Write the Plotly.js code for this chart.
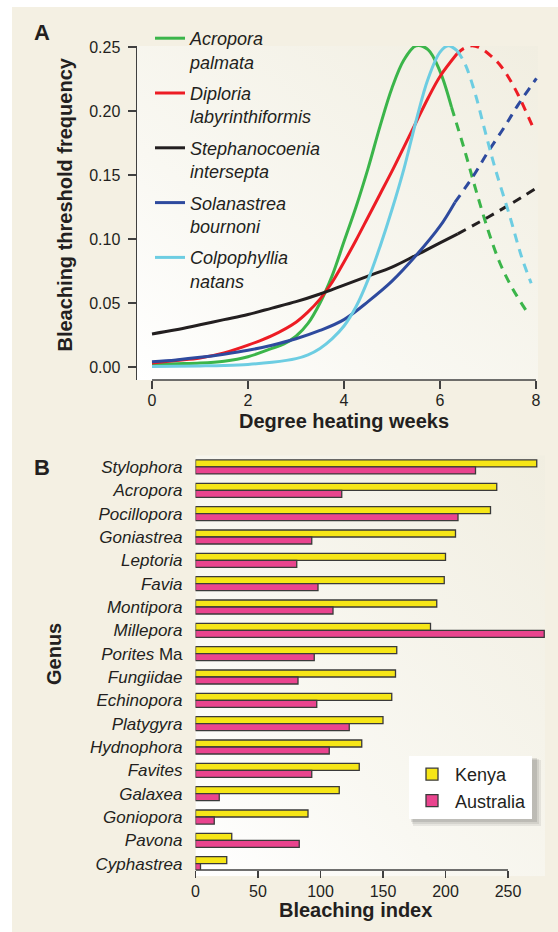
<!DOCTYPE html>
<html><head><meta charset="utf-8">
<script src="https://cdn.plot.ly/plotly-3.0.1.min.js"></script>
<style>html,body{margin:0;padding:0;background:#fff;}#chart{width:558px;height:932px;}</style>
</head><body><div id="chart"></div>
<script>
// ---------- Panel A: bleaching threshold frequency vs degree heating weeks ----------
const speciesGenus   = ['Acropora', 'Diploria', 'Stephanocoenia', 'Solanastrea', 'Colpophyllia'];
const speciesEpithet = ['palmata', 'labyrinthiformis', 'intersepta', 'bournoni', 'natans'];
const speciesColors  = ['#3bb54a', '#ed1c24', '#231f20', '#2e4a9e', '#6dcde2'];

const acroporaSolidX = [0, 0.5, 1, 1.5, 2, 2.5, 2.75, 3, 3.25, 3.5, 3.75, 4, 4.25, 4.5, 4.75, 5, 5.25, 5.5, 5.75, 6, 6.24];
const acroporaSolidY = [0.002, 0.0025, 0.003, 0.0045, 0.008, 0.0145, 0.018, 0.024, 0.034, 0.050, 0.071, 0.098, 0.125, 0.155, 0.188, 0.218, 0.240, 0.251, 0.248, 0.231, 0.203];
const acroporaDashX  = [6.24, 6.5, 6.75, 7, 7.25, 7.5, 7.83];
const acroporaDashY  = [0.203, 0.171, 0.138, 0.107, 0.081, 0.062, 0.042];

const diploriaSolidX = [0, 0.5, 1, 1.5, 2, 2.5, 3, 3.25, 3.5, 3.75, 4, 4.25, 4.5, 4.75, 5, 5.25, 5.5, 5.75, 6, 6.35];
const diploriaSolidY = [0.003, 0.005, 0.007, 0.011, 0.017, 0.0245, 0.035, 0.043, 0.053, 0.066, 0.082, 0.099, 0.117, 0.135, 0.153, 0.172, 0.191, 0.210, 0.227, 0.2445];
const diploriaDashX  = [6.35, 6.5, 6.67, 6.85, 7.08, 7.25, 7.42, 7.63, 7.94];
const diploriaDashY  = [0.2445, 0.249, 0.251, 0.249, 0.2424, 0.236, 0.2268, 0.2125, 0.187];

const stephanoSolidX = [0, 0.5, 1, 1.5, 2, 2.5, 3, 3.5, 4, 4.5, 5, 5.5, 6, 6.37];
const stephanoSolidY = [0.0258, 0.029, 0.033, 0.037, 0.041, 0.046, 0.051, 0.057, 0.064, 0.071, 0.078, 0.0873, 0.097, 0.104];
const stephanoDashX  = [6.37, 7, 7.5, 8];
const stephanoDashY  = [0.104, 0.117, 0.128, 0.1396];

const solanastSolidX = [0, 0.5, 1, 1.5, 2, 2.5, 3, 3.5, 4, 4.5, 5, 5.5, 6, 6.31];
const solanastSolidY = [0.004, 0.0055, 0.0075, 0.010, 0.013, 0.017, 0.022, 0.0285, 0.037, 0.051, 0.067, 0.087, 0.110, 0.1286];
const solanastDashX  = [6.31, 6.69, 7, 7.35, 7.63, 8.01];
const solanastDashY  = [0.1286, 0.149, 0.168, 0.188, 0.205, 0.2255];

const colpophSolidX  = [0, 0.5, 1, 1.5, 2, 2.5, 3, 3.25, 3.5, 3.75, 4, 4.25, 4.5, 4.75, 5, 5.25, 5.5, 5.75, 6, 6.17, 6.36];
const colpophSolidY  = [0.0003, 0.0005, 0.0008, 0.0012, 0.002, 0.0036, 0.0065, 0.0095, 0.0145, 0.022, 0.032, 0.047, 0.068, 0.094, 0.123, 0.155, 0.192, 0.225, 0.246, 0.251, 0.247];
const colpophDashX   = [6.36, 6.52, 6.73, 6.94, 7.15, 7.46, 7.70, 7.90];
const colpophDashY   = [0.247, 0.237, 0.214, 0.184, 0.155, 0.117, 0.086, 0.0654];

const weekTicks = [0, 2, 4, 6, 8];
const freqTicks = [0, 0.05, 0.10, 0.15, 0.20, 0.25];

// ---------- Panel B: bleaching index by genus ----------
const genera = ['Stylophora', 'Acropora', 'Pocillopora', 'Goniastrea', 'Leptoria', 'Favia', 'Montipora',
  'Millepora', 'Porites Ma', 'Fungiidae', 'Echinopora', 'Platygyra', 'Hydnophora', 'Favites',
  'Galaxea', 'Goniopora', 'Pavona', 'Cyphastrea'];
const genusLabels = ['<i>Stylophora</i>', '<i>Acropora</i>', '<i>Pocillopora</i>', '<i>Goniastrea</i>',
  '<i>Leptoria</i>', '<i>Favia</i>', '<i>Montipora</i>', '<i>Millepora</i>', '<i>Porites</i> Ma',
  '<i>Fungiidae</i>', '<i>Echinopora</i>', '<i>Platygyra</i>', '<i>Hydnophora</i>', '<i>Favites</i>',
  '<i>Galaxea</i>', '<i>Goniopora</i>', '<i>Pavona</i>', '<i>Cyphastrea</i>'];
const kenyaIndex     = [273, 241, 236, 208, 200, 199, 193, 188, 161, 160, 157, 150, 133, 131, 115, 90, 29, 25];
const australiaIndex = [224, 117, 210, 93, 81, 98, 110, 279, 95, 82, 97, 123, 107, 93, 19, 15, 83, 4];
const indexTicks = [0, 50, 100, 150, 200, 250];

// ---------- figure ----------
const W = 558, H = 932;
const FONT = 'Liberation Sans, Arial, Helvetica, sans-serif';
const TXT = '#231f20';
const AX = '#404040';
const px = v => v / W;
const py = v => (H - v) / H;

const curveSets = [
  [acroporaSolidX, acroporaSolidY, acroporaDashX, acroporaDashY],
  [diploriaSolidX, diploriaSolidY, diploriaDashX, diploriaDashY],
  [stephanoSolidX, stephanoSolidY, stephanoDashX, stephanoDashY],
  [solanastSolidX, solanastSolidY, solanastDashX, solanastDashY],
  [colpophSolidX, colpophSolidY, colpophDashX, colpophDashY]
];

const traces = [];
curveSets.forEach((c, i) => {
  traces.push({
    x: c[0], y: c[1], type: 'scatter', mode: 'lines', xaxis: 'x', yaxis: 'y',
    name: speciesGenus[i] + '<br>' + speciesEpithet[i], legendgroup: 'g' + i, legend: 'legend',
    line: {color: speciesColors[i], width: 3, shape: 'spline', smoothing: 1}, cliponaxis: false,
    hoverinfo: 'skip'
  });
  traces.push({
    x: c[2], y: c[3], type: 'scatter', mode: 'lines', xaxis: 'x', yaxis: 'y',
    showlegend: false, legendgroup: 'g' + i,
    line: {color: speciesColors[i], width: 3, shape: 'spline', smoothing: 1, dash: '9px,7px'},
    cliponaxis: false, hoverinfo: 'skip'
  });
});

traces.push({
  type: 'bar', orientation: 'h', name: 'Kenya', x: kenyaIndex, y: genera, xaxis: 'x2', yaxis: 'y2',
  legend: 'legend2', marker: {color: '#f6e617', line: {color: '#3a3a3a', width: 1.3}}, hoverinfo: 'skip'
});
traces.push({
  type: 'bar', orientation: 'h', name: 'Australia', x: australiaIndex, y: genera, xaxis: 'x2', yaxis: 'y2',
  legend: 'legend2', marker: {color: '#e9448e', line: {color: '#3a3a3a', width: 1.3}}, hoverinfo: 'skip'
});

const gradSvg = "<svg xmlns='http://www.w3.org/2000/svg' width='200' height='200' preserveAspectRatio='none'>" +
  "<defs><linearGradient id='g' x1='0' y1='1' x2='1' y2='0'>" +
  "<stop offset='0' stop-color='#ffffff'/><stop offset='0.35' stop-color='#f9f8f2'/><stop offset='1' stop-color='#f1eee1'/>" +
  "</linearGradient></defs><rect width='200' height='200' fill='url(#g)'/></svg>";
const gradSrc = 'data:image/svg+xml;charset=utf-8,' + encodeURIComponent(gradSvg);

const axisFont = {family: FONT, size: 16, color: TXT};

const layout = {
  width: W, height: H,
  margin: {l: 0, r: 0, t: 0, b: 0},
  paper_bgcolor: '#ffffff',
  plot_bgcolor: 'rgba(0,0,0,0)',
  font: {family: FONT, color: TXT},
  showlegend: true,
  barmode: 'group', bargap: 0.4, bargroupgap: 0,
  xaxis: {
    domain: [px(137), px(538)], range: [-0.3125, 8.0417], anchor: 'y',
    tickvals: weekTicks, ticks: 'outside', ticklen: 8, tickwidth: 1.5, tickcolor: AX,
    showline: false, zeroline: false, showgrid: false, tickfont: axisFont,
    ticklabelstandoff: -2, fixedrange: true
  },
  yaxis: {
    domain: [py(380), py(46)], range: [-0.0102, 0.2508], anchor: 'x',
    tickvals: freqTicks, tickformat: '.2f', ticks: 'outside', ticklen: 8, tickwidth: 1.5, tickcolor: AX,
    showline: true, linewidth: 1.5, linecolor: AX, zeroline: false, showgrid: false,
    tickfont: axisFont, ticklabelstandoff: 4, fixedrange: true
  },
  xaxis2: {
    domain: [px(195.5), px(545)], range: [0, 279.6], anchor: 'y2',
    tickvals: indexTicks, ticks: 'outside', ticklen: 7, tickwidth: 1.5, tickcolor: AX,
    showline: false, zeroline: false, showgrid: false, tickfont: axisFont, fixedrange: true
  },
  yaxis2: {
    domain: [py(870), py(455.3)], range: [17.27, -0.5], anchor: 'x2', type: 'category',
    categoryorder: 'array', categoryarray: genera, tickvals: genera, ticktext: genusLabels,
    ticks: '', showline: false, zeroline: false, showgrid: false,
    tickfont: {family: FONT, size: 17, color: TXT}, ticklabelstandoff: 12, fixedrange: true
  },
  legend: {
    x: px(150), y: py(20), xanchor: 'left', yanchor: 'top',
    bgcolor: 'rgba(0,0,0,0)', borderwidth: 0, valign: 'top',
    font: {family: FONT, size: 18, color: TXT, style: 'italic'},
    tracegroupgap: 5, itemwidth: 30, itemclick: false, itemdoubleclick: false
  },
  legend2: {
    x: px(409), y: py(756), xanchor: 'left', yanchor: 'top',
    bgcolor: '#ffffff', borderwidth: 0,
    font: {family: FONT, size: 18, color: TXT},
    itemwidth: 36, itemclick: false, itemdoubleclick: false
  },
  images: [
    {source: gradSrc, xref: 'x domain', yref: 'y domain', x: 0, y: 1, sizex: 1, sizey: 1,
     sizing: 'stretch', xanchor: 'left', yanchor: 'top', layer: 'below'},
    {source: gradSrc, xref: 'x2 domain', yref: 'y2 domain', x: 0, y: 1, sizex: 1, sizey: 1.015,
     sizing: 'stretch', xanchor: 'left', yanchor: 'top', layer: 'below'}
  ],
  shapes: [
    // beige panel background
    {type: 'rect', xref: 'paper', yref: 'paper', x0: px(12), x1: 1, y0: 0, y1: py(7),
     fillcolor: '#f4f0e3', line: {width: 0}, layer: 'below'},
    // detached x axis lines
    {type: 'line', xref: 'x', yref: 'y domain', x0: weekTicks[0], x1: weekTicks[weekTicks.length - 1], y0: 0, y1: 0,
     line: {color: AX, width: 1.5}},
    {type: 'line', xref: 'x2', yref: 'y2 domain', x0: indexTicks[0], x1: indexTicks[indexTicks.length - 1], y0: 0, y1: 0,
     line: {color: AX, width: 1.5}},
    // soft shadow of the panel B legend
    {type: 'rect', xref: 'paper', yref: 'paper', x0: px(413), x1: px(541), y0: py(826), y1: py(760),
     fillcolor: 'rgba(0,0,0,0.07)', line: {width: 0}, layer: 'above'},
    {type: 'rect', xref: 'paper', yref: 'paper', x0: px(412), x1: px(539), y0: py(824), y1: py(759),
     fillcolor: 'rgba(0,0,0,0.08)', line: {width: 0}, layer: 'above'},
    {type: 'rect', xref: 'paper', yref: 'paper', x0: px(411), x1: px(537), y0: py(822), y1: py(758),
     fillcolor: 'rgba(0,0,0,0.10)', line: {width: 0}, layer: 'above'}
  ],
  annotations: [
    {text: '<b>A</b>', x: px(42), y: py(33), xref: 'paper', yref: 'paper', showarrow: false,
     xanchor: 'center', yanchor: 'middle', font: {family: FONT, size: 22, color: TXT}},
    {text: '<b>B</b>', x: px(42), y: py(467), xref: 'paper', yref: 'paper', showarrow: false,
     xanchor: 'center', yanchor: 'middle', font: {family: FONT, size: 22, color: TXT}},
    {text: '<b>Bleaching threshold frequency</b>', x: px(64.5), y: py(205), xref: 'paper', yref: 'paper',
     showarrow: false, textangle: -90, xanchor: 'center', yanchor: 'middle', font: {family: FONT, size: 20, color: TXT}},
    {text: '<b>Degree heating weeks</b>', x: px(344), y: py(421), xref: 'paper', yref: 'paper',
     showarrow: false, xanchor: 'center', yanchor: 'middle', font: {family: FONT, size: 20, color: TXT}},
    {text: '<b>Genus</b>', x: px(54), y: py(654), xref: 'paper', yref: 'paper',
     showarrow: false, textangle: -90, xanchor: 'center', yanchor: 'middle', font: {family: FONT, size: 20, color: TXT}},
    {text: '<b>Bleaching index</b>', x: px(355), y: py(910), xref: 'paper', yref: 'paper',
     showarrow: false, xanchor: 'center', yanchor: 'middle', font: {family: FONT, size: 20, color: TXT}}
  ]
};

Plotly.newPlot('chart', traces, layout, {displayModeBar: false, staticPlot: true});
</script>
</body></html>
